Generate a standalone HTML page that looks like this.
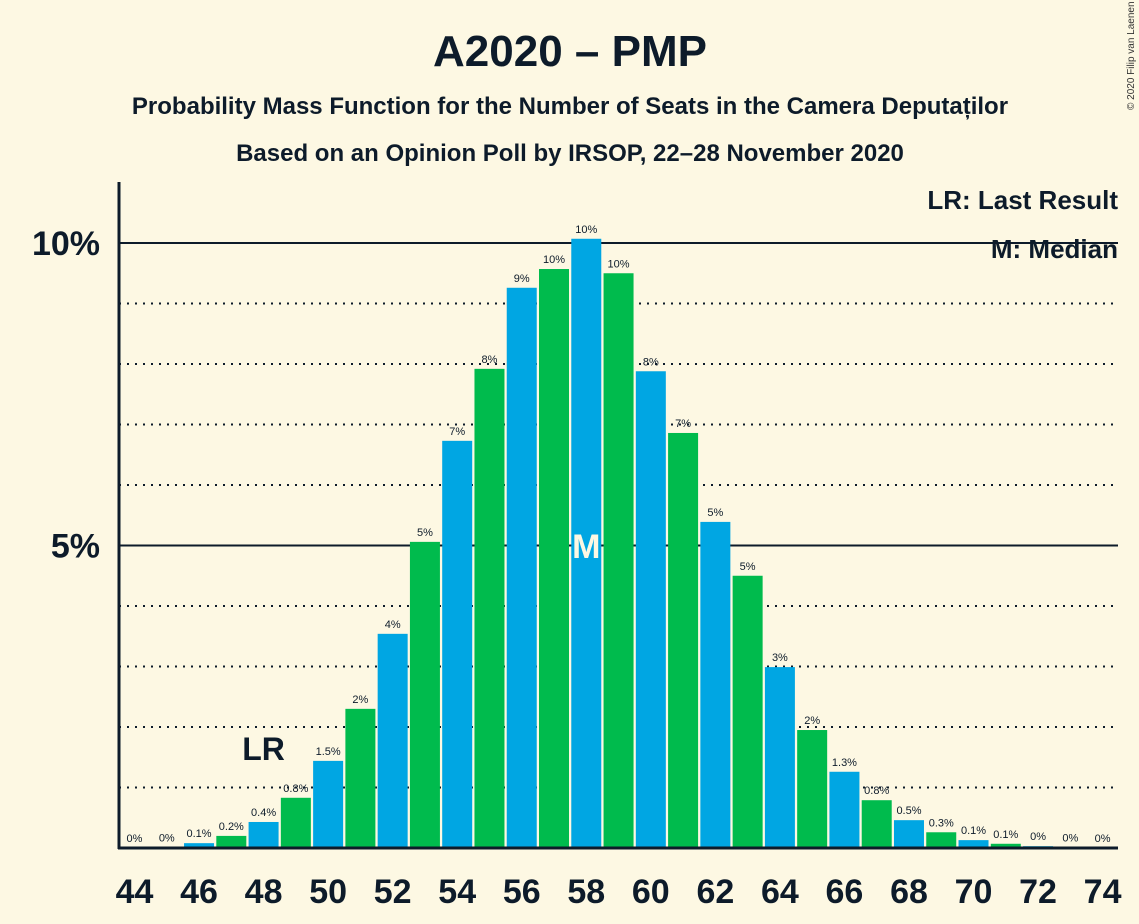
<!DOCTYPE html>
<html><head><meta charset="utf-8"><style>
body{margin:0;background:#fdf8e3;}
svg{display:block;font-family:"Liberation Sans",sans-serif;}
</style></head><body>
<svg id="chart" width="1139" height="924">
<rect width="1139" height="924" fill="#fdf8e3"/>
<text x="570" y="66" text-anchor="middle" font-size="44" font-weight="bold" fill="#0d1b2a">A2020 – PMP</text>
<text x="570" y="114" text-anchor="middle" font-size="24" font-weight="bold" fill="#0d1b2a">Probability Mass Function for the Number of Seats in the Camera Deputaților</text>
<text x="570" y="161" text-anchor="middle" font-size="24" font-weight="bold" fill="#0d1b2a">Based on an Opinion Poll by IRSOP, 22–28 November 2020</text>
<text x="1134" y="110" font-size="10" fill="#333" transform="rotate(-90 1134 110)">© 2020 Filip van Laenen</text>
<g id="grid"></g>
<g id="bars"></g>
<g id="labels"></g>
<line x1="119" y1="182" x2="119" y2="849" stroke="#0d1b2a" stroke-width="3"/>
<line x1="118" y1="848" x2="1118" y2="848" stroke="#0d1b2a" stroke-width="3"/>
<text x="1118" y="209" text-anchor="end" font-size="26" font-weight="bold" fill="#0d1b2a">LR: Last Result</text>
<text x="1118" y="258" text-anchor="end" font-size="26" font-weight="bold" fill="#0d1b2a">M: Median</text>
</svg>
<script>
const seats=[44,45,46,47,48,49,50,51,52,53,54,55,56,57,58,59,60,61,62,63,64,65,66,67,68,69,70,71,72,73,74];
const probs=[0,0.01,0.08,0.2,0.43,0.83,1.44,2.3,3.54,5.06,6.73,7.92,9.26,9.57,10.07,9.5,7.88,6.86,5.39,4.5,2.99,1.95,1.26,0.79,0.46,0.26,0.13,0.07,0.03,0.01,0];
const valueLabels=["0%","0%","0.1%","0.2%","0.4%","0.8%","1.5%","2%","4%","5%","7%","8%","9%","10%","10%","10%","8%","7%","5%","5%","3%","2%","1.3%","0.8%","0.5%","0.3%","0.1%","0.1%","0%","0%","0%"];
const xTicks=[44,46,48,50,52,54,56,58,60,62,64,66,68,70,72,74];
const yTicks=[5,10];
const lastResult=48, median=58;
const NS="http://www.w3.org/2000/svg";
const y=v=>848-v*60.5;
const x=s=>134.5+(s-44)*32.27;
function mk(tag,attrs,parent,text){const e=document.createElementNS(NS,tag);for(const k in attrs)e.setAttribute(k,attrs[k]);if(text!==undefined)e.textContent=text;parent.appendChild(e);return e;}
const grid=document.getElementById('grid'),bars=document.getElementById('bars'),labels=document.getElementById('labels'),svg=document.getElementById('chart');
for(let v=1;v<=10;v++){
  const major=yTicks.includes(v);
  const l=mk('line',{x1:119,x2:1118,y1:y(v),y2:y(v),stroke:'#0d1b2a','stroke-width':major?2:2,'stroke-dasharray':major?'':'2,6'},grid);
  
  
}
yTicks.forEach(v=>{
  const t=mk('text',{x:100,y:y(v)+12,'text-anchor':'end','font-size':34,'font-weight':'bold',fill:'#0d1b2a'},svg,v+'%');
  
  
});
xTicks.forEach(s=>{
  const t=mk('text',{x:x(s),y:903,'text-anchor':'middle','font-size':34,'font-weight':'bold',fill:'#0d1b2a'},svg,String(s));
  
  
});
seats.forEach((s,i)=>{
  const top=y(probs[i]);
  const r=mk('rect',{x:x(s)-15,y:top,width:30,height:848-top,fill:s%2===0?'#00a6e3':'#00bb4d'},bars);
  
  
  const t=mk('text',{x:x(s),y:top-6,'text-anchor':'middle','font-size':11,fill:'#0d1b2a'},labels,valueLabels[i]);
  
  
});
const lr=mk('text',{x:x(lastResult),y:y(probs[seats.indexOf(lastResult)])-62,'text-anchor':'middle','font-size':32,'font-weight':'bold',fill:'#0d1b2a'},svg,'LR');


const m=mk('text',{x:x(median),y:558,'text-anchor':'middle','font-size':34,'font-weight':'bold',fill:'#fdf8e3'},svg,'M');


</script>
</body></html>
